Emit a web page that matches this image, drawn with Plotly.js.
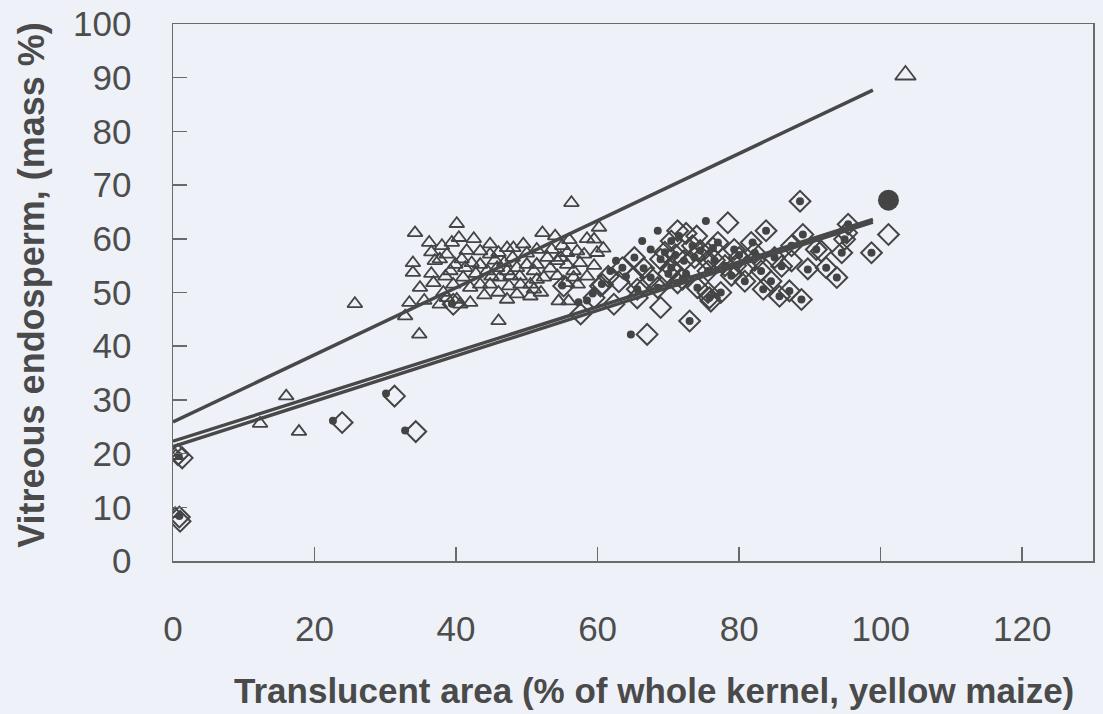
<!DOCTYPE html>
<html>
<head>
<meta charset="utf-8">
<script src="https://cdn.plot.ly/plotly-3.0.1.min.js"></script>
<style>html,body{margin:0;padding:0;background:#eef2f8;}#chart{width:1103px;height:714px;}</style>
</head>
<body>
<div id="chart"></div>
<script>
// Triangles (open)
var triX = [0.4, 0.3, 12.3, 16.0, 17.8, 25.7,
  34.2, 40.1, 36.2, 38.0, 39.4, 40.4, 33.9, 33.9, 34.9, 33.4, 32.8, 34.8, 36.8, 37.7, 37.0, 38.7, 39.2, 39.9, 40.8, 41.3,
  42.2, 43.4, 44.8, 44.8, 46.0, 47.2, 48.1, 49.5, 51.4, 52.2, 54.0, 55.0, 55.7, 57.1, 58.1, 59.5, 59.9, 60.2,
  43.4, 44.4, 45.8, 47.2, 48.6, 50.0, 51.4, 52.9, 54.3, 55.7, 56.6, 38.2, 39.6, 41.0, 42.0, 43.4, 44.8, 46.2, 47.7,
  49.1, 50.5, 51.4, 52.4, 54.3, 55.5, 56.6, 37.7, 40.6, 42.0, 46.0, 47.2, 48.6, 50.5, 51.0, 54.5, 46.0, 38.7, 40.1,
  36.5, 38.5, 41.5, 42.8, 44.0, 45.5, 46.8, 48.0, 49.0, 50.0, 51.0, 52.0, 53.3, 54.8, 56.0, 57.5, 58.5, 35.5, 36.5,
  42.5, 45.0, 47.5, 53.5, 56.3, 57.2, 55.9, 58.5, 60.8, 59.5];
var triY = [19.6, 8.8, 25.6, 30.7, 24.1, 47.9,
  61.1, 62.8, 59.3, 58.7, 59.3, 60.2, 55.5, 53.7, 50.9, 48.1, 45.6, 42.2, 51.8, 56.2, 55.9, 57.1, 54.0, 55.2, 56.2, 54.6,
  55.5, 57.7, 59.0, 57.1, 57.4, 58.3, 58.3, 59.0, 58.0, 61.1, 60.5, 58.7, 57.4, 57.7, 57.1, 59.9, 57.4, 62.1,
  55.2, 54.0, 54.6, 54.0, 54.6, 55.2, 55.2, 56.5, 55.9, 55.2, 54.0, 50.0, 51.5, 52.8, 50.9, 51.5, 51.5, 52.8, 53.1,
  51.5, 51.5, 52.4, 52.8, 53.1, 51.8, 52.8, 47.8, 47.8, 48.1, 50.0, 48.7, 49.7, 49.3, 50.6, 48.4, 44.7, 49.0, 48.7,
  57.5, 53.0, 57.8, 53.5, 49.5, 56.0, 55.5, 56.5, 53.0, 57.3, 54.0, 50.0, 54.5, 56.5, 59.8, 55.5, 60.0, 48.5, 53.5,
  60.0, 53.0, 51.2, 58.0, 66.7, 51.5, 48.4, 53.0, 58.2, 55.0];

// Diamonds (open)
var diaX = [0.7, 1.3, 0.9, 1.0, 23.9, 31.3, 34.3, 39.6, 55.2, 57.6, 59.5, 60.4, 60.7, 62.3, 63.5, 65.2, 65.1, 65.6,
  65.6, 67.0, 68.9, 73.0, 67.5, 71.3, 70.4, 71.3, 73.4, 73.7, 75.6, 77.0, 78.4, 76.0, 77.4, 75.8, 78.9, 80.8,
  81.7, 82.2, 82.2, 83.1, 83.4, 83.8, 84.5, 85.0, 85.7, 86.0, 87.1, 87.4, 87.4, 88.6, 88.8, 89.0, 89.7, 90.9,
  91.6, 92.3, 93.8, 94.5, 94.9, 95.2, 95.4, 98.7, 101.1, 68.9, 70.4, 72.2, 68.5, 74.1, 75.6, 76.3, 75.6, 79.3,
  80.0, 72.5, 74.0, 61.5, 63.0, 69.5, 71.0, 66.5, 76.5, 78.0, 70.0, 72.0, 74.5, 79.5, 81.0];
var diaY = [19.8, 19.2, 8.2, 7.4, 25.8, 30.7, 24.1, 47.8, 51.2, 46.0, 49.0, 51.2, 51.5, 47.8, 54.6, 56.5, 52.8, 50.6,
  49.0, 42.2, 47.2, 44.7, 52.8, 51.8, 59.6, 61.5, 58.7, 56.5, 54.0, 59.3, 63.0, 48.4, 50.0, 49.0, 53.2, 52.1,
  59.3, 57.4, 56.0, 54.0, 50.6, 61.5, 52.1, 56.5, 49.3, 54.9, 50.3, 55.9, 58.7, 67.0, 48.7, 60.8, 54.4, 58.0,
  57.7, 54.6, 52.8, 57.4, 59.9, 61.1, 62.7, 57.4, 60.8, 56.2, 54.6, 55.9, 50.9, 50.9, 50.0, 58.3, 55.9, 58.0,
  56.5, 61.0, 60.5, 53.0, 52.0, 57.5, 57.0, 54.5, 56.0, 55.0, 53.5, 52.5, 57.8, 55.0, 54.8];

// Small filled dots
var dotX = [0.8, 0.9, 22.6, 30.1, 32.8, 39.4, 55.0, 57.3, 59.3, 60.6, 61.8, 62.6, 63.5, 65.2, 65.6, 66.3, 68.5, 64.7,
  67.5, 71.3, 70.4, 73.4, 73.0, 73.7, 75.3, 75.6, 77.0, 76.3, 79.3, 78.9, 77.4, 75.8, 80.8, 81.9, 82.2, 83.1,
  83.4, 83.8, 84.5, 85.0, 85.7, 86.0, 87.1, 87.4, 88.6, 88.8, 89.0, 89.7, 90.9, 92.3, 93.8, 94.5, 94.9, 95.4,
  98.7, 68.9, 70.4, 72.2, 68.5, 74.1, 69.5, 71.0, 72.5, 66.5, 64.0, 58.5, 76.5, 78.0, 80.0, 70.0, 72.0, 74.5, 67.5, 71.5];
var dotY = [19.6, 8.4, 26.1, 31.2, 24.3, 47.9, 51.3, 48.2, 49.8, 51.6, 54.0, 55.9, 54.6, 56.5, 50.6, 59.6, 61.5, 42.2,
  52.8, 51.8, 59.6, 58.7, 44.7, 56.5, 63.3, 54.0, 59.3, 58.3, 58.0, 53.1, 50.0, 49.0, 52.1, 59.3, 57.4, 54.0,
  50.6, 61.5, 52.1, 56.5, 49.3, 54.9, 50.3, 58.7, 67.0, 48.7, 60.8, 54.3, 58.0, 54.6, 52.8, 57.4, 59.9, 62.7,
  57.4, 56.2, 54.6, 55.9, 50.9, 50.9, 57.5, 57.0, 53.5, 54.5, 53.0, 48.5, 56.0, 55.0, 57.0, 53.5, 52.5, 57.8, 58.0, 60.5];

// Mean points
var meanTriX = [103.5], meanTriY = [90.5];
var meanDotX = [101.1], meanDotY = [67.2];

// Fitted regression lines (endpoints)
var fitX = [0, 98.9];
var fitTriY = [25.9, 87.7];
var fitDiaY = [22.3, 63.6];
var fitDotY = [21.3, 63.1];

var xTicks = [0, 20, 40, 60, 80, 100, 120];
var yTicks = [0, 10, 20, 30, 40, 50, 60, 70, 80, 90, 100];

var ink = '#444444';
var fontFam = 'Liberation Sans, Arial, sans-serif';

var traces = [
  {x: triX, y: triY, mode: 'markers', type: 'scatter',
   marker: {symbol: 'triangle-up-open', size: 13, color: ink, line: {width: 1.8, color: ink}}},
  {x: diaX, y: diaY, mode: 'markers', type: 'scatter',
   marker: {symbol: 'diamond-open', size: 16, color: ink, line: {width: 2, color: ink}}},
  {x: dotX, y: dotY, mode: 'markers', type: 'scatter',
   marker: {symbol: 'circle', size: 8, color: ink, line: {width: 0}}},
  {x: meanTriX, y: meanTriY, mode: 'markers', type: 'scatter',
   marker: {symbol: 'triangle-up-open', size: 18, color: ink, line: {width: 1.8, color: ink}}},
  {x: meanDotX, y: meanDotY, mode: 'markers', type: 'scatter',
   marker: {symbol: 'circle', size: 21, color: ink, line: {width: 0}}},
  {x: fitX, y: fitTriY, mode: 'lines', type: 'scatter', line: {color: '#484848', width: 3.5}},
  {x: fitX, y: fitDiaY, mode: 'lines', type: 'scatter', line: {color: '#484848', width: 3.4}},
  {x: fitX, y: fitDotY, mode: 'lines', type: 'scatter', line: {color: '#484848', width: 3.4}}
];

var axisCommon = {
  showgrid: false, zeroline: false, showline: true, linecolor: '#6a6a6a', linewidth: 1.5, mirror: true,
  ticks: 'inside', ticklen: 14, tickwidth: 1.5, tickcolor: '#6a6a6a',
  tickfont: {family: fontFam, size: 35, color: '#4d4d4d'}
};

var layout = {
  width: 1103, height: 714,
  margin: {l: 173, r: 10, t: 24, b: 153},
  paper_bgcolor: '#eef2f8', plot_bgcolor: '#eef2f8',
  showlegend: false,
  xaxis: Object.assign({}, axisCommon, {range: [0, 130], tickvals: xTicks, ticklabelstandoff: 36}),
  yaxis: Object.assign({}, axisCommon, {range: [0, 100], tickvals: yTicks, ticklabelstandoff: 33}),
  annotations: [
    {text: '<b>Translucent area (% of whole kernel, yellow maize)</b>', xref: 'paper', yref: 'paper',
     x: 0.523, y: -0.242, xanchor: 'center', yanchor: 'middle', showarrow: false,
     font: {family: fontFam, size: 35, color: '#4a4a4a'}},
    {text: '<b>Vitreous endosperm, (mass %)</b>', xref: 'paper', yref: 'paper',
     x: -0.154, y: 0.515, xanchor: 'center', yanchor: 'middle', textangle: -90, showarrow: false,
     font: {family: fontFam, size: 36, color: '#4a4a4a'}}
  ]
};

Plotly.newPlot('chart', traces, layout, {staticPlot: true, displayModeBar: false});
</script>
</body>
</html>
